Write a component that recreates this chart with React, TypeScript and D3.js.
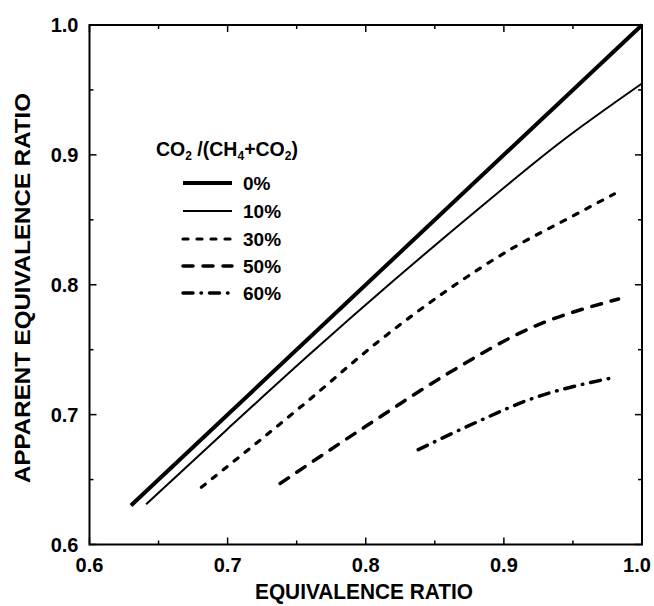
import * as d3 from "d3";

// equivalence ratio (x) vs apparent equivalence ratio (y), per CO2 fraction
const seriesLabels = ["0%", "10%", "30%", "50%", "60%"];
const x0 = [0.63, 1.0];
const y0 = [0.63, 1.0];
const x10 = [0.641, 0.7, 0.76, 0.82, 0.88, 0.94, 1.0];
const y10 = [0.631, 0.689, 0.747, 0.803, 0.857, 0.909, 0.955];
const x30 = [0.681, 0.753, 0.81, 0.858, 0.906, 0.95, 0.98];
const y30 = [0.644, 0.706, 0.757, 0.795, 0.828, 0.853, 0.87];
const x50 = [0.738, 0.8, 0.86, 0.92, 0.983];
const y50 = [0.647, 0.691, 0.732, 0.767, 0.789];
const x60 = [0.838, 0.884, 0.917, 0.977];
const y60 = [0.673, 0.696, 0.711, 0.728];

const xTicks = [0.6, 0.7, 0.8, 0.9, 1.0];
const yTicks = [0.6, 0.7, 0.8, 0.9, 1.0];
const minorTicks = [0.65, 0.75, 0.85, 0.95];

const W = 654;
const H = 606;
const m = { left: 89.5, right: 12, top: 25, bottom: 61.5 };
const font = "'Liberation Sans', Arial, Helvetica, sans-serif";

const styles = [
  { width: 4, dash: "", cap: "butt" },
  { width: 2, dash: "", cap: "butt" },
  { width: 3.2, dash: "5 9", cap: "round" },
  { width: 3.5, dash: "10 10", cap: "round" },
  { width: 3.5, dash: "10 8 0.5 8", cap: "round" },
];

export default function App() {
  const x = d3.scaleLinear().domain([0.6, 1.0]).range([m.left, W - m.right]);
  const y = d3.scaleLinear().domain([0.6, 1.0]).range([H - m.bottom, m.top]);
  const x1 = W - m.right;
  const yb = H - m.bottom;

  const series = [
    [x0, y0],
    [x10, y10],
    [x30, y30],
    [x50, y50],
    [x60, y60],
  ].map(([xs, ys]) => xs.map((v, i) => [v, ys[i]] as [number, number]));

  const line = d3
    .line<[number, number]>()
    .x((d) => x(d[0]))
    .y((d) => y(d[1]))
    .curve(d3.curveMonotoneX);

  const legendX = 183;
  const legendRows = [183, 211, 239, 266, 293];

  return (
    <svg width={W} height={H} style={{ position: "absolute", left: 0, top: 0, background: "#fff" }}>
      {/* ticks on all four sides, pointing inward */}
      <g stroke="#000" strokeWidth={1.5}>
        {xTicks.map((t) => (
          <g key={"xt" + t}>
            <line x1={x(t)} x2={x(t)} y1={yb} y2={yb - 7} />
            <line x1={x(t)} x2={x(t)} y1={m.top} y2={m.top + 7} />
          </g>
        ))}
        {yTicks.map((t) => (
          <g key={"yt" + t}>
            <line x1={m.left} x2={m.left + 7} y1={y(t)} y2={y(t)} />
            <line x1={x1} x2={x1 - 7} y1={y(t)} y2={y(t)} />
          </g>
        ))}
        {minorTicks.map((t) => (
          <g key={"mt" + t}>
            <line x1={x(t)} x2={x(t)} y1={yb} y2={yb - 4} />
            <line x1={x(t)} x2={x(t)} y1={m.top} y2={m.top + 4} />
            <line x1={m.left} x2={m.left + 4} y1={y(t)} y2={y(t)} />
            <line x1={x1} x2={x1 - 4} y1={y(t)} y2={y(t)} />
          </g>
        ))}
      </g>
      <rect x={m.left} y={m.top} width={x1 - m.left} height={yb - m.top} fill="none" stroke="#000" strokeWidth={2} />

      {/* tick labels */}
      <g fontFamily={font} fontWeight="bold" fontSize={20} fill="#000">
        {xTicks.map((t) => (
          <text key={"xl" + t} x={Math.min(x(t), W - 17)} y={yb + 27} textAnchor="middle">
            {t.toFixed(1)}
          </text>
        ))}
        {yTicks.map((t) => (
          <text key={"yl" + t} x={m.left - 11} y={y(t) + 7} textAnchor="end">
            {t.toFixed(1)}
          </text>
        ))}
      </g>

      {/* axis titles */}
      <text
        x={364}
        y={599}
        textAnchor="middle"
        fontFamily={font}
        fontWeight="bold"
        fontSize={22}
        textLength={218}
        lengthAdjust="spacingAndGlyphs"
      >
        EQUIVALENCE RATIO
      </text>
      <text
        transform="translate(30,288) rotate(-90)"
        textAnchor="middle"
        fontFamily={font}
        fontWeight="bold"
        fontSize={22}
        textLength={390}
        lengthAdjust="spacingAndGlyphs"
      >
        APPARENT EQUIVALENCE RATIO
      </text>

      {/* curves */}
      <g fill="none" stroke="#000">
        {series.map((s, i) => (
          <path
            key={"s" + i}
            d={line(s) || ""}
            strokeWidth={styles[i].width}
            strokeDasharray={styles[i].dash}
            strokeLinecap={styles[i].cap as any}
          />
        ))}
      </g>

      {/* legend */}
      <text x={156} y={156} fontFamily={font} fontWeight="bold" fontSize={19.5}>
        CO<tspan fontSize={12} dy={4}>2</tspan>
        <tspan dy={-4}> /(CH</tspan>
        <tspan fontSize={12} dy={4}>4</tspan>
        <tspan dy={-4}>+CO</tspan>
        <tspan fontSize={12} dy={4}>2</tspan>
        <tspan dy={-4}>)</tspan>
      </text>
      {seriesLabels.map((lab, i) => (
        <g key={"lg" + i}>
          <line
            x1={legendX}
            x2={legendX + 49}
            y1={legendRows[i]}
            y2={legendRows[i]}
            stroke="#000"
            strokeWidth={styles[i].width}
            strokeDasharray={styles[i].dash}
            strokeLinecap={styles[i].cap as any}
          />
          <text
            x={243}
            y={legendRows[i] + 7}
            fontFamily={font}
            fontWeight="bold"
            fontSize={19}
          >
            {lab}
          </text>
        </g>
      ))}
    </svg>
  );
}
